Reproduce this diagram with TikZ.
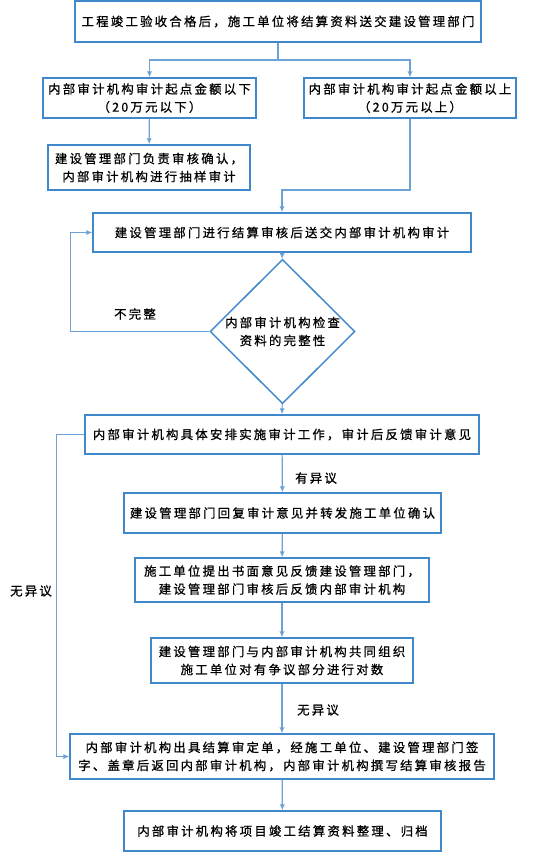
\documentclass[tikz,border=0pt]{standalone}
\usepackage{fontspec}
\newfontfamily\cjk[LetterSpace=18, FakeBold=0.8]{Noto Sans CJK SC}
\usetikzlibrary{arrows.meta, shapes.geometric}
\definecolor{boxblue}{HTML}{3F88CC}
\definecolor{lineblue}{HTML}{6CA2D6}

\begin{document}
\begin{tikzpicture}[x=0.75pt, y=-0.75pt, >={Latex[length=4.5pt,width=4pt]},
  flowbox/.style={draw=boxblue, line width=1.1pt, inner sep=0pt, align=center,
    font=\cjk\fontsize{9.3pt}{13.5pt}\selectfont},
  check/.style={diamond, draw=boxblue, line width=1.1pt, inner sep=0pt, align=center,
    minimum width=108.75pt, minimum height=83.25pt,
    font=\cjk\fontsize{9.3pt}{13.5pt}\selectfont},
  note/.style={inner sep=0pt, font=\cjk\fontsize{9.3pt}{13.5pt}\selectfont},
  link/.style={draw=lineblue, line width=0.9pt}]
  \useasboundingbox (0,0) rectangle (537,856);

  % boxes of the flow
  \node[flowbox, minimum width=304.5pt, minimum height=30.75pt] (start) at (278,21.5)
    {工程竣工验收合格后，施工单位将结算资料送交建设管理部门};
  \node[flowbox, minimum width=159.75pt, minimum height=30pt] (low) at (149.5,98)
    {内部审计机构审计起点金额以下\\（20万元以下）};
  \node[flowbox, minimum width=159pt, minimum height=30pt] (high) at (410,98)
    {内部审计机构审计起点金额以上\\（20万元以上）};
  \node[flowbox, minimum width=151.5pt, minimum height=33.75pt] (sample) at (149,167.5)
    {建设管理部门负责审核确认，\\内部审计机构进行抽样审计};
  \node[flowbox, minimum width=283.5pt, minimum height=29.25pt] (send) at (282,232.5)
    {建设管理部门进行结算审核后送交内部审计机构审计};
  \node[check] (chk) at (282.5,331.5) {内部审计机构检查\\资料的完整性};
  \node[flowbox, minimum width=295.5pt, minimum height=29.25pt] (audit) at (282,434.5)
    {内部审计机构具体安排实施审计工作，审计后反馈审计意见};
  \node[flowbox, minimum width=237.75pt, minimum height=30pt] (reply) at (282.5,513)
    {建设管理部门回复审计意见并转发施工单位确认};
  \node[flowbox, minimum width=220.5pt, minimum height=33pt] (written) at (282,580)
    {施工单位提出书面意见反馈建设管理部门，\\建设管理部门审核后反馈内部审计机构};
  \node[flowbox, minimum width=196.5pt, minimum height=33.75pt] (joint) at (282,660.5)
    {建设管理部门与内部审计机构共同组织\\施工单位对有争议部分进行对数};
  \node[flowbox, minimum width=318pt, minimum height=33.75pt] (final) at (282,756.5)
    {内部审计机构出具结算审定单，经施工单位、建设管理部门签\\字、盖章后返回内部审计机构，内部审计机构撰写结算审核报告};
  \node[flowbox, minimum width=237.75pt, minimum height=30pt] (archive) at (282.5,831)
    {内部审计机构将项目竣工结算资料整理、归档};

  % labels
  \node[note] (incomplete) at (135,314) {不完整};
  \node[note] (objection) at (316,478) {有异议};
  \node[note] (noobj) at (318,710) {无异议};
  \node[note] (noobjleft) at (31,591) {无异议};

  % connectors
  \coordinate (split) at (278,60);
  \coordinate (merge) at (282,190);
  \draw[link] (start.south) -- (split);
  \draw[link, ->] (split) -| (low.north);
  \draw[link, ->] (split) -| (high.north);
  \draw[link, ->] (low) -- (sample);
  \draw[link, ->] (high.south) |- (merge) -- (send.north);
  \draw[link, ->] (send) -- (chk);
  \draw[link, ->] (chk.west) -- ++(-139,0) |- (send.west);
  \draw[link, ->] (chk) -- (audit);
  \draw[link, ->] (audit.west) -- ++(-28,0) |- (final.west);
  \draw[link, ->] (audit) -- (reply);
  \draw[link, ->] (reply) -- (written);
  \draw[link, ->] (written) -- (joint);
  \draw[link, ->] (joint) -- (final);
  \draw[link, ->] (final) -- (archive);
\end{tikzpicture}
\end{document}
